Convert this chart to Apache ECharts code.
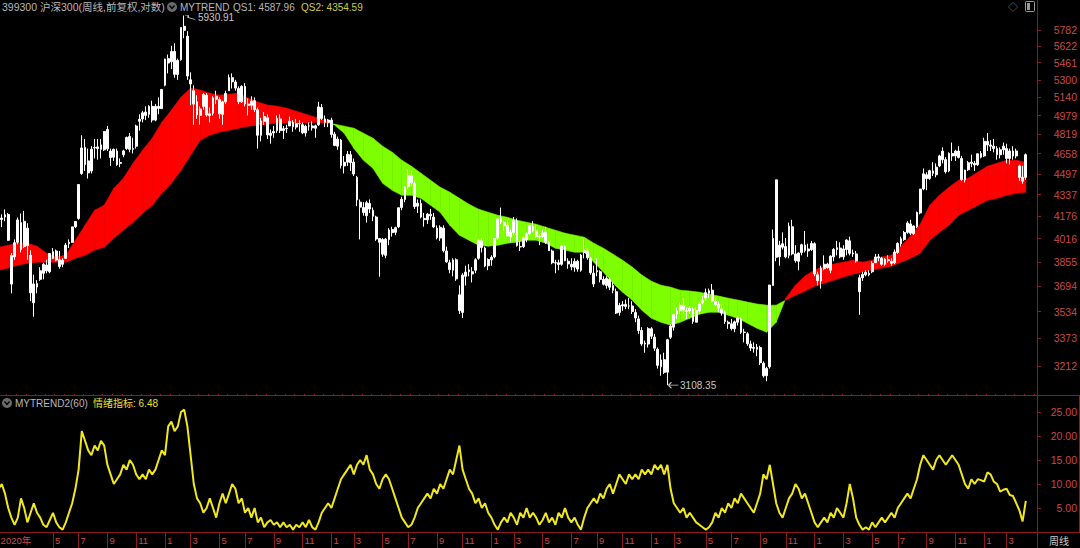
<!DOCTYPE html>
<html><head><meta charset="utf-8">
<script src="https://cdn.jsdelivr.net/npm/echarts@6.0.0/dist/echarts.min.js"></script>
<style>html,body{margin:0;padding:0;background:#000}#c{width:1080px;height:548px}</style>
</head><body><div id="c"></div>
<script>
// ---------- DATA ----------
// weekly candles [open, close, low, high], one per trading week from 2020-01-03
const candles2020 = [
[4121,4144,4108,4172],[4152,4163,4097,4190],[4170,4186,4140,4226],[4189,4004,4000,4200],[3709,3899,3650,3916],
[3890,3987,3870,4010],[3990,4149,3975,4166],[4130,3940,3920,4196],[3960,4139,3950,4215],[4090,3967,3870,4125],
[3900,3653,3600,3935],[3590,3710,3503,3770],[3690,3713,3650,3735],[3740,3796,3730,3820],[3780,3839,3740,3850],
[3835,3796,3780,3870],[3790,3912,3780,3915],[3880,3925,3875,3950],[3930,3868,3860,3940],[3870,3825,3810,3930],
[3840,3867,3820,3880],[3880,3971,3875,3985],[3980,3990,3950,4010],[3990,4099,3985,4100],[4100,4138,4090,4140],
[4160,4414,4150,4415],[4500,4705,4490,4811],[4710,4570,4520,4780],[4600,4505,4460,4700],[4520,4695,4500,4720],
[4710,4705,4620,4780],[4700,4714,4610,4780],[4730,4694,4620,4780],[4690,4843,4680,4845],[4860,4698,4680,4890],
[4680,4627,4560,4700],[4630,4694,4600,4700],[4680,4570,4560,4700],[4580,4587,4550,4620],[4650,4681,4630,4690],
[4700,4792,4690,4800],[4800,4694,4670,4830],[4700,4695,4660,4790],[4720,4889,4700,4900],[4930,4947,4850,4990],
[4950,5003,4920,5020],[5010,4981,4940,5060],[4990,5060,4960,5070],[5060,4940,4920,5110],[4940,5060,4930,5080],
[5060,5042,4990,5140],[5040,5211,5040,5211]];
const candles2021 = [
[5250,5496,5240,5500],[5500,5458,5360,5540],[5470,5570,5400,5625],[5570,5351,5320,5650],[5350,5483,5300,5500],
[5490,5808,5480,5810],[5820,5779,5700,5930.91],[5720,5336,5300,5770],[5300,5262,5070,5370],[5200,5080,4900,5250],
[5100,4986,4950,5160],[4980,5037,4900,5060],[5060,5165,5030,5180],[5160,4984,4970,5180],[4980,4995,4920,5050],
[5000,5135,4980,5150],[5150,5123,5080,5200],[5120,4994,4950,5140],[4990,5100,4900,5110],[5100,5175,5080,5200],
[5200,5321,5200,5350],[5320,5282,5220,5360],[5280,5224,5200,5300],[5220,5102,5080,5240],[5100,5240,5090,5250],
[5240,5082,5060,5270],[5080,5069,4980,5130],[5070,5108,5030,5150],[5110,5032,5010,5140],[5030,4811,4700,5050],
[4810,4933,4760,4960],[4930,4971,4900,5010],[4960,4814,4780,4990],[4810,4828,4740,4860],[4830,4843,4790,4890],
[4850,4953,4830,4980],[4950,4850,4830,4990],[4850,4866,4780,4890],[4870,4866,4830,4900],[4890,4930,4890,4970],
[4920,4883,4840,4940],[4880,4911,4860,4950],[4910,4908,4840,4940],[4900,4832,4820,4920],[4830,4887,4800,4900],
[4890,4889,4850,4920],[4890,4874,4850,4930],[4870,4891,4790,4900],[4900,5055,4890,5100],[5050,4954,4940,5080],
[4950,4921,4880,4980],[4920,4940,4880,4950]];
const candles2022 = [
[4940,4818,4790,4960],[4820,4726,4720,4840],[4720,4779,4690,4800],[4770,4563,4540,4780],[4560,4589,4500,4640],
[4590,4653,4560,4680],[4650,4586,4520,4680],[4590,4496,4480,4620],[4470,4297,4250,4480],[4280,4243,4010,4300],
[4240,4204,4180,4280],[4180,4276,4130,4290],[4270,4229,4200,4300],[4220,4176,4140,4240],[4170,4013,4000,4180],
[3990,4016,3757,4020],[4010,3908,3890,4020],[3900,4012,3880,4020],[4010,4077,3970,4090],[4080,4058,4030,4100],
[4060,4093,4040,4100],[4100,4238,4090,4240],[4240,4301,4220,4320],[4300,4394,4280,4400],[4400,4485,4380,4530],
[4480,4428,4400,4520],[4420,4247,4230,4440],[4250,4272,4200,4300],[4270,4170,4160,4300],[4160,4151,4100,4200],
[4150,4191,4120,4200],[4190,4179,4150,4230],[4170,4099,4090,4200],[4090,4022,4010,4110],[4020,4096,4000,4110],
[4090,3932,3920,4110],[3930,3856,3850,3960],[3850,3804,3780,3870],[3800,3869,3760,3880],[3870,3743,3730,3880],
[3640,3541,3520,3700],[3530,3767,3495,3780],[3760,3788,3700,3830],[3790,3802,3760,3840],[3790,3775,3720,3820],
[3800,3870,3780,3880],[3880,4002,3870,4010],[4000,3954,3920,4020],[3950,3828,3820,3960],[3830,3872,3800,3880]];
const candles2023 = [
[3870,3887,3830,3900],[3890,4018,3880,4020],[4020,4156,4010,4160],[4160,4135,4120,4240],[4130,4106,4070,4140],
[4110,4035,4030,4150],[4030,4061,3990,4080],[4060,4144,4040,4170],[4140,3967,3960,4160],[3960,3958,3930,4000],
[3960,4018,3950,4030],[4010,4050,3990,4060],[4050,4107,4040,4110],[4100,4071,4060,4140],[4070,4029,4020,4110],
[4030,4029,3970,4050],[4030,4056,4020,4080],[4060,3990,3980,4100],[3990,3932,3930,4000],[3930,3850,3840,3940],
[3850,3848,3780,3870],[3850,3838,3800,3870],[3840,3963,3830,3970],[3960,3864,3860,3970],[3860,3842,3810,3880],
[3840,3823,3800,3880],[3820,3859,3790,3880],[3860,3808,3790,3870],[3800,3902,3790,3910],[3920,3937,3880,4015],
[3930,3884,3870,3950],[3880,3784,3770,3890],[3780,3710,3690,3830],[3790,3797,3760,3880],[3790,3740,3720,3800],
[3740,3708,3700,3760],[3700,3746,3680,3760],[3740,3689,3670,3750],[3700,3669,3650,3720],[3660,3526,3520,3680],
[3530,3573,3510,3590],[3570,3578,3540,3600],[3580,3567,3550,3610],[3570,3570,3550,3620],[3570,3536,3520,3600],
[3530,3496,3470,3550],[3490,3420,3400,3510],[3420,3341,3330,3440],[3340,3345,3290,3360],[3340,3431,3320,3440]];
const candles2024 = [
[3430,3386,3370,3440],[3380,3316,3300,3400],[3310,3218,3200,3320],[3210,3248,3160,3280],[3250,3179,3170,3290],
[3180,3365,3108.35,3370],[3380,3447,3370,3460],[3440,3516,3420,3520],[3520,3538,3490,3560],[3540,3574,3520,3590],
[3570,3546,3520,3620],[3540,3537,3490,3560],[3540,3555,3520,3570],[3550,3475,3460,3560],[3470,3541,3470,3560],
[3540,3584,3520,3600],[3590,3604,3580,3630],[3620,3654,3600,3680],[3650,3666,3620,3680],[3670,3601,3590,3710],
[3600,3579,3570,3620],[3580,3557,3530,3600],[3550,3526,3510,3580],[3530,3474,3460,3540],[3470,3461,3430,3480],
[3460,3432,3420,3490],[3430,3472,3410,3480],[3470,3496,3450,3510],[3490,3409,3400,3500],[3410,3409,3350,3430],
[3400,3342,3330,3410],[3340,3317,3300,3360],[3320,3315,3290,3350],[3310,3321,3270,3340],[3320,3233,3220,3330],
[3230,3160,3150,3240],[3160,3201,3130,3210],[3210,3703,3200,3703],[3700,4017,3700,4080],[4450,3887,3860,4451],
[3890,3970,3830,4000],[3980,3956,3940,4060],[3960,3890,3880,4020],[3900,4104,3880,4130],[4100,3910,3900,4150],
[3910,3865,3850,3970],[3860,3916,3800,3920],[3920,3973,3900,3980],[3970,3933,3920,4070],[3930,3944,3890,3980],
[3940,3982,3930,4000]];
const candles2025 = [
[3980,3775,3760,3990],[3770,3732,3700,3790],[3730,3812,3680,3830],[3810,3840,3800,3900],[3840,3817,3810,3850],
[3800,3895,3780,3900],[3890,3940,3860,3950],[3940,3952,3900,4000],[3950,3890,3880,3990],[3890,3944,3870,3970],
[3940,4006,3900,4010],[4000,3914,3900,4030],[3910,3916,3890,3940],[3910,3862,3850,3930],[3660,3750,3515,3770],
[3750,3772,3730,3790],[3770,3786,3760,3800],[3780,3770,3760,3800],[3790,3846,3780,3860],[3850,3889,3850,3910],
[3890,3883,3860,3910],[3880,3840,3830,3890],[3840,3873,3830,3880],[3870,3864,3850,3900],[3860,3846,3830,3880],
[3850,3922,3840,3940],[3920,3982,3910,3990],[3980,4015,3960,4030],[4010,4059,4000,4070],[4060,4127,4050,4140],
[4120,4054,4040,4150],[4050,4105,4040,4110],[4100,4203,4090,4210],[4200,4379,4190,4380],[4380,4497,4370,4540],
[4490,4460,4370,4510],[4460,4522,4450,4530],[4520,4501,4480,4590],[4490,4550,4470,4580],[4560,4640,4550,4650],
[4680,4610,4580,4710],[4610,4514,4500,4630],[4520,4660,4510,4670],[4660,4640,4600,4750],[4640,4679,4600,4690],
[4680,4628,4620,4720],[4620,4453,4440,4640],[4450,4526,4430,4530],[4530,4585,4520,4600],[4590,4580,4550,4650],
[4580,4568,4520,4600],[4570,4657,4560,4660],[4660,4630,4620,4680]];
const candles2026 = [
[4640,4760,4630,4790],[4760,4730,4680,4830],[4730,4720,4680,4770],[4720,4700,4670,4780],[4700,4650,4610,4720],
[4650,4690,4620,4710],[4690,4720,4650,4750],[4700,4620,4580,4740],[4620,4680,4570,4700],[4680,4640,4610,4720],
[4640,4680,4620,4700],[4560,4470,4440,4570],[4470,4440,4420,4560],[4470,4650,4450,4660]];

// MYTREND lines, sampled every qsStep weeks (bar 0, 3, 6, ...)
const qsStep = 3;
const qs1 = [3956,3970,3984,3984,3963,3915,3888,3901,4005,4111,4220,4257,4385,4463,4581,4687,4786,4922,5027,5142,5224,5206,5178,5160,5169,5178,5133,5098,5071,5062,5044,5018,4991,4965,4939,4897,
4828,4703,4606,4541,4424,4370,4332,4332,4309,4257,4205,4111,4040,4005,3970,3963,3970,3984,3991,4005,4005,3984,3949,3936,3922,3922,3854,3788,3715,3657,3607,3544,3494,3470,3452,3470,3494,3519,3531,3531,3513,3494,3464,3434,3410,3470,
3619,3702,3762,3801,3827,3841,3854,3867,3854,3867,3888,3901,3963,4033,4118,4257,4332,4393,4447,4463,4510,4557,4581,4606,4606,4587.96];
const qs2 = [3801,3814,3834,3847,3854,3854,3854,3854,3881,3901,3936,3956,4019,4075,4132,4198,4257,4347,4424,4526,4646,4770,4812,4837,4854,4871,4888,4897,4905,4914,4914,4914,4914,4922,4914,4905,
4888,4871,4828,4786,4720,4670,4606,4557,4502,4447,4393,4355,4309,4264,4228,4205,4183,4168,4147,4132,4118,4096,4075,4054,4040,4026,3984,3949,3908,3867,3821,3768,3728,3702,3689,3670,3664,3657,3644,3632,3619,3607,3594,3582,3575,3575,
3607,3638,3664,3696,3715,3735,3755,3774,3788,3801,3814,3827,3854,3881,3915,4005,4061,4111,4183,4220,4257,4294,4309,4332,4347,4354.59];

// 情绪指标 (MYTREND2), one per week
const mood = [
9,10,8,5,3,1.5,3,7,5,2, 4,6,4,3,1.5,1,2.5,4,2,1, 0.5,2,4,6,9,13,21,19,17,16, 18,17,19,18,14,12,10,11,12,14,
13,15,14,12,11,12,11,13,12,13, 15,17,16,22,23,21,22,25,25.5,22, 16,10,7,6,4,5,7,5,3,6, 8,6,8,10,9,6,7,4,5,3,
5,2,3,1,2,2.5,1.5,2,1,2, 1,1.5,0.5,1.5,1,2,1,2.5,1,0.5, 2,4,5,6,5,7,9,11,12,13, 14,12,14,15,14,16,13,12,10,9,
11,12,11,9,7,5,3,2,1,1.5, 3,5,6,7,8,7,9,8,10,9, 11,13,12,15,18,13,11,9,8,6, 7,5,6,4,3,1.5,0.5,2,3,2,
4,3,1.5,4,3,5,3,4,3,1.5, 2.5,4,2,3,1.5,4,3,5,3,2, 3,1.5,0.5,3,5,6,7,6,8,7, 9,10,8,10,12,11,10,12,11,12,
11,13,12,13,12,14,13,14,12,14, 9,6,5,4,5,3,4,3,2,1.5, 1,0.5,1,2,4,3,5,4,6,5, 7,6,8,7,6,5,4,6,8,12,
11,14,10,6,4,3,5,7,8,10, 9,7,8,6,4,2,1,2,3,2, 4,3,5,4,3,6,10,7,3,1.5, 0.5,1,0.5,2,1,2,3,2,3,4,
3,5,6,7,8,7,9,11,14,16, 15,14,13,15,16,15,14,15,16,15, 14,12,10,9,11,10,11,10.8,10.5,12.4, 12,10.5,10,8.4,8.8,9,7.7,7.5,6,4.5,
2.2,6.48];

// axis ticks / labels
const priceTicks = [3212,3373,3534,3694,3855,4016,4176,4337,4497,4658,4819,4979,5140,5300,5461,5622,5782];
const moodTicks = [5,10,15,20,25];
const monthLabels = ['2020年','5','7','9','11','1','3','5','7','9','11','1','3','5','7','9','11','1','3','5','7','9','11','1','3','5','7','9','11','1','3','5','7','9','11','1','3'];
const monthLabelWeeks = [0,17,25,34,43,52,60,69,77,86,95,104,111,120,128,137,145,154,161,170,179,187,195,204,211,221,229,238,246,255,264,273,281,290,299,308,315];
const slotCount = 325;

// ---------- BUILD ----------
const candles = [].concat(candles2020,candles2021,candles2022,candles2023,candles2024,candles2025,candles2026);
const cats = Array.from({length: slotCount}, (_, i) => String(i));
const labelMap = {};
monthLabelWeeks.forEach((w, k) => { labelMap[w] = monthLabels[k]; });
const bandData = qs1.map((v, k) => [k * qsStep, v, qs2[k]]);

const RED = '#ff0000', GREEN = '#7dff00';
const AXIS = '#8c1c1c', LBL = '#c84a4a';
const FONT = "'Liberation Sans','Noto Sans CJK SC',sans-serif";

function bandItem(params, api) {
  const k = params.dataIndex;
  if (k >= bandData.length - 1) return null;
  const a = bandData[k], b = bandData[k + 1];
  const a1 = api.coord([a[0], a[1]]), a2 = api.coord([a[0], a[2]]);
  const b1 = api.coord([b[0], b[1]]), b2 = api.coord([b[0], b[2]]);
  const d1 = a[1] - a[2], d2 = b[1] - b[2];
  const col = d => d >= 0 ? RED : GREEN;
  const poly = (pts, c) => ({type: 'polygon', shape: {points: pts}, style: {fill: c, stroke: c, lineWidth: 0.6}});
  if (d1 * d2 >= 0) return poly([a1, b1, b2, a2], col(d1 !== 0 ? d1 : d2));
  const g1 = a1[1] - a2[1], g2 = b1[1] - b2[1];
  const t = g1 / (g1 - g2);
  const c = [a1[0] + t * (b1[0] - a1[0]), a1[1] + t * (b1[1] - a1[1])];
  return {type: 'group', children: [poly([a1, c, a2], col(d1)), poly([c, b1, b2], col(d2))]};
}

const chart = echarts.init(document.getElementById('c'), null, {renderer: 'svg'});
const txt = (x, y, text, fill, size) => ({type: 'text', x: x, y: y, silent: true,
  style: {text: text, fill: fill, font: (size || 10) + 'px ' + FONT, verticalAlign: 'middle'}});
const ln = (x1, y1, x2, y2) => ({type: 'line', silent: true, shape: {x1, y1, x2, y2}, style: {stroke: AXIS, lineWidth: 1}});

chart.setOption({
  animation: false,
  backgroundColor: '#000',
  grid: [
    {left: -3, right: 43, top: 0, height: 395, outerBoundsMode: 'none', containLabel: false},
    {left: -3, right: 43, top: 396, height: 136, outerBoundsMode: 'none', containLabel: false}
  ],
  xAxis: [
    {gridIndex: 0, type: 'category', data: cats, boundaryGap: true,
     axisLine: {lineStyle: {color: AXIS}}, axisTick: {show: false}, axisLabel: {show: false}, splitLine: {show: false}},
    {gridIndex: 1, type: 'category', data: cats, boundaryGap: true,
     axisLine: {lineStyle: {color: AXIS}},
     axisTick: {show: true, alignWithLabel: true, length: 16, interval: i => labelMap[i] !== undefined, lineStyle: {color: AXIS}},
     axisLabel: {interval: i => labelMap[i] !== undefined, formatter: (v, i) => labelMap[i] || '',
       color: LBL, fontSize: 9.5, fontFamily: FONT, align: 'left', margin: 4, padding: [0, 0, 0, 2]},
     splitLine: {show: false}},
    {gridIndex: 1, type: 'category', data: cats, boundaryGap: true,
     axisLine: {show: false}, axisTick: {show: true, interval: 2, length: 2, lineStyle: {color: AXIS}},
     axisLabel: {show: false}, splitLine: {show: false}}
  ],
  yAxis: [
    {gridIndex: 0, type: 'log', logBase: 10, min: 3055.5, max: 6093.6, position: 'right',
     axisLine: {show: true, lineStyle: {color: AXIS}},
     axisTick: {show: true, length: 4, customValues: priceTicks, lineStyle: {color: AXIS}},
     axisLabel: {customValues: priceTicks, formatter: v => String(Math.round(v)), color: LBL, fontSize: 10.5, fontFamily: FONT, align: 'right', margin: 40},
     splitLine: {show: false}},
    {gridIndex: 1, type: 'value', min: 0, max: 28.33, position: 'right',
     axisLine: {show: true, lineStyle: {color: AXIS}},
     axisTick: {show: true, length: 4, customValues: moodTicks, lineStyle: {color: AXIS}},
     axisLabel: {customValues: moodTicks, formatter: v => v.toFixed(2), color: LBL, fontSize: 10.5, fontFamily: FONT, align: 'right', margin: 40},
     splitLine: {show: false}}
  ],
  series: [
    {type: 'custom', name: 'band', xAxisIndex: 0, yAxisIndex: 0, data: bandData, encode: {x: 0, y: [1, 2]},
     renderItem: bandItem, clip: true, silent: true, z: 1},
    {type: 'candlestick', name: '沪深300', xAxisIndex: 0, yAxisIndex: 0, data: candles, barWidth: '66%', z: 3,
     itemStyle: {color: '#fff', color0: '#fff', borderColor: '#fff', borderColor0: '#fff', borderWidth: 1},
     markPoint: {
       silent: true,
       data: [
         {type: 'max', valueDim: 'highest', symbol: 'path://M0,0 L3,0 L3,2 L10,4', symbolSize: [10, 4], symbolOffset: [6, 2],
          label: {position: 'right', distance: 2}},
         {type: 'min', valueDim: 'lowest', symbol: 'path://M0,3 L10,3 M0,3 L3,0 M0,3 L3,6', symbolSize: [10, 6], symbolOffset: [6, 0],
          label: {position: 'right', distance: 1}}
       ],
       symbolKeepAspect: false,
       itemStyle: {color: 'transparent', borderColor: '#c8c8c8', borderWidth: 1},
       label: {show: true, color: '#c8c8c8', fontSize: 10, fontFamily: FONT, formatter: p => Number(p.value).toFixed(2)}
     }},
    {type: 'line', name: '情绪指标', xAxisIndex: 1, yAxisIndex: 1, data: mood, showSymbol: false, symbol: 'none',
     lineStyle: {color: '#f0e81c', width: 2}, z: 3}
  ],
  graphic: [
    txt(2, 7, '399300 沪深300(周线,前复权,对数)', '#b8b8b8', 10.5),
    {type: 'circle', silent: true, shape: {cx: 172, cy: 7, r: 5}, style: {fill: '#6a6a6a'}},
    {type: 'polyline', silent: true, shape: {points: [[169.5, 5.5], [172, 8.5], [174.5, 5.5]]}, style: {stroke: '#000', lineWidth: 1.3, fill: null}},
    txt(180, 7, 'MYTREND', '#b8b8b8'),
    txt(233, 7, 'QS1: ' + qs1[qs1.length - 1].toFixed(2), '#b8b8b8'),
    txt(301, 7, 'QS2: ' + qs2[qs2.length - 1].toFixed(2), '#cccc44'),
    txt(1008, 7, '◇', '#8a8a8a', 10),
    {type: 'rect', silent: true, shape: {x: 1025.5, y: 1.5, width: 9, height: 10, r: 1}, style: {stroke: '#9a9a9a', fill: 'none', lineWidth: 1}},
    {type: 'rect', silent: true, shape: {x: 1027, y: 3, width: 3, height: 7}, style: {fill: '#9a9a9a'}},
    {type: 'circle', silent: true, shape: {cx: 7, cy: 403, r: 5}, style: {fill: '#6a6a6a'}},
    {type: 'polyline', silent: true, shape: {points: [[4.5, 401.5], [7, 404.5], [9.5, 401.5]]}, style: {stroke: '#000', lineWidth: 1.3, fill: null}},
    txt(15, 403, 'MYTREND2(60)', '#b8b8b8'),
    txt(93, 403, '情绪指标: ' + mood[mood.length - 1].toFixed(2), '#e6e030'),
    txt(1049, 541, '周线', '#cfcfcf', 10),
    ln(0, 395.5, 1080, 395.5),
    ln(1037.5, 0, 1037.5, 548),
    ln(1079.5, 395, 1079.5, 532.5),
    ln(1037, 532.5, 1080, 532.5)
  ]
});
</script></body></html>
